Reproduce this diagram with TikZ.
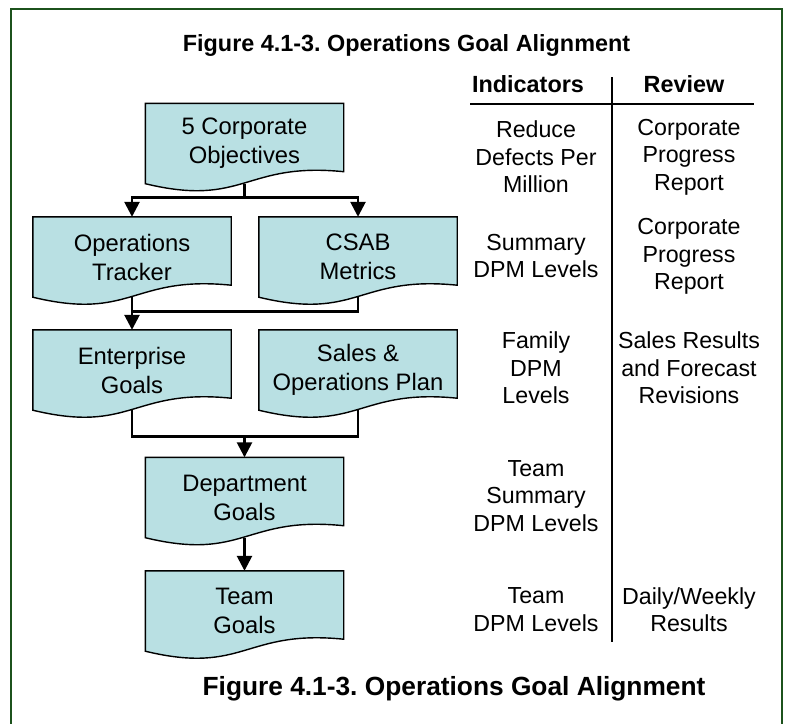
\documentclass[tikz,border=0pt]{standalone}
\usepackage{fontspec}
\setmainfont{Liberation Sans}
\usetikzlibrary{arrows.meta,calc,backgrounds}
\frenchspacing
\definecolor{docblue}{RGB}{185,224,227}
\definecolor{framegreen}{RGB}{28,82,28}
\tikzstyle{docbox}=[minimum width=198pt,minimum height=80pt,inner sep=0pt,align=center,font=\fontsize{23.8}{29}\selectfont]
\tikzstyle{docshape}=[draw,fill=docblue,line width=1.4pt]
\tikzstyle{flow} = [draw,line width=2.6pt,-{Triangle[length=15pt,width=15pt]}]
\tikzstyle{joinline} = [draw,line width=2.6pt]
\tikzstyle{cell} = [align=center,inner sep=0pt,font=\fontsize{23.2}{27.5}\selectfont]
\tikzstyle{head} = [inner sep=0pt,anchor=base,font=\bfseries\fontsize{23.4}{28}\selectfont]
\begin{document}
\begin{tikzpicture}[x=1pt,y=-1pt]
   \useasboundingbox (0,0) rectangle (789,723);

   % frame
   \draw[framegreen,line width=2pt] (11,740) -- (11,9) -- (782,9) -- (782,740);

   \node[head] (title) at (406.5,51) {Figure 4.1-3. Operations Goal Alignment};

    \foreach \pos/ \name/ \txt in {{(244.5,143.5)/obj/{5 Corporate\\Objectives}},
        {(132,257)/ops/{Operations\\Tracker}},{(358,257)/csab/{CSAB\\Metrics}},
        {(132,370)/ent/{Enterprise\\Goals}},{(358,370)/sop/{Sales \&\\Operations Plan}},
        {(244.5,497.5)/dept/{Department\\Goals}},{(244.5,611)/team/{Team\\Goals}}}
        \node[docbox] (\name) at \pos {\txt};

    % document outlines behind the text
    \begin{scope}[on background layer]
    \foreach \name in {obj,ops,csab,ent,sop,dept,team}
        \path[docshape] (\name.north west) -- (\name.north east) -- ([yshift=12pt]\name.south east)
            .. controls ([yshift=22pt]\name.south) and ([yshift=-24pt]\name.south) .. (\name.south west) -- cycle;
    \end{scope}

    % connectors
    \path[flow] (obj.south) -- ++(0,14) -| (ops.north);
    \path[flow] (obj.south) -- ++(0,14) -| (csab.north);
    \path[joinline] (csab.south) -- ++(0,14) -| (ops.south);
    \path[flow] (ops.south) -- (ent.north);
    \path[joinline] (ent.south) -- ++(0,26) -| (sop.south);
    \coordinate (merge) at ($(ent.south -| dept.north)+(0,26)$);
    \path[flow] (merge) -- (dept.north);
    \path[flow] (dept.south) -- (team.north);

    % table
    \node[head] (hind) at (528,92) {Indicators};
    \node[head] (hrev) at (684,92) {Review};
    \draw[line width=1.5pt] (470,104) -- (754,104);
    \draw[line width=1.5pt] (612,77) -- (612,642);

    \foreach \y/ \name/ \txt in {157/ind1/{Reduce\\Defects Per\\Million},256/ind2/{Summary\\DPM Levels},
        368/ind3/{Family\\DPM\\Levels},496/ind4/{Team\\Summary\\DPM Levels},609.5/ind5/{Team\\DPM Levels}}
        \node[cell] (\name) at (536,\y) {\txt};

    \foreach \y/ \name/ \txt in {157/rev1/{Corporate\\Progress\\Report},256.5/rev2/{Corporate\\Progress\\Report},
        368/rev3/{Sales Results\\and Forecast\\Revisions},609.5/rev5/{Daily/Weekly\\Results}}
        \node[cell] (\name) at (689,\y) {\txt};

 \node[head,font=\bfseries\fontsize{26.3}{30}\selectfont] (caption) at (454,695) {Figure 4.1-3. Operations Goal Alignment};

\end{tikzpicture}
\end{document}
